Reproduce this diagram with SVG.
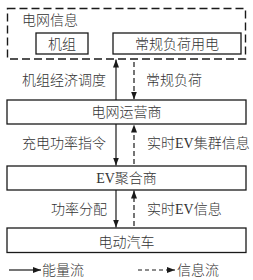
<svg xmlns="http://www.w3.org/2000/svg" width="253" height="280" viewBox="0 0 253 280">
<defs>
<marker id="ah" viewBox="0 0 8 6" refX="8" refY="3" markerWidth="8" markerHeight="6" markerUnits="userSpaceOnUse" orient="auto">
<path d="M0,0 L8,3 L0,6 Z" fill="#1a1a1a"/>
</marker>
<style>
text{font-family:"Liberation Serif","Noto Sans CJK SC",serif;font-size:14px;font-weight:300;fill:#333}
.c{text-anchor:middle}
.box{fill:#fff;stroke:#1a1a1a;stroke-width:1.3}
.dbox{fill:none;stroke:#1a1a1a;stroke-width:1.4;stroke-dasharray:8 4}
.sol{stroke:#1a1a1a;stroke-width:1.2;fill:none;marker-end:url(#ah)}
.dsh{stroke:#1a1a1a;stroke-width:1.2;fill:none;stroke-dasharray:5 3;marker-end:url(#ah)}
</style>
</defs>
<rect width="253" height="280" fill="#fff"/>
<g id="grid-info">
<rect class="dbox" x="7.5" y="8.5" width="238" height="50.5"/>
<text x="22" y="25">电网信息</text>
</g>
<g id="unit">
<rect class="box" x="36" y="33" width="52" height="21"/>
<text class="c" x="62" y="48.5">机组</text>
</g>
<g id="load">
<rect class="box" x="113" y="33" width="128" height="21"/>
<text class="c" x="177" y="48.5">常规负荷用电</text>
</g>
<g id="operator">
<rect class="box" x="7" y="100" width="239" height="24"/>
<text class="c" x="126.5" y="117">电网运营商</text>
</g>
<g id="aggregator">
<rect class="box" x="7" y="166" width="239" height="24"/>
<text class="c" x="126.5" y="183">EV聚合商</text>
</g>
<g id="ev">
<rect class="box" x="7" y="228" width="239" height="24.5"/>
<text class="c" x="126.5" y="247">电动汽车</text>
</g>
<g id="connectors">
<line class="sol" x1="116" y1="100" x2="116" y2="59.5"/>
<line class="dsh" x1="134" y1="62" x2="134" y2="99.5"/>
<line class="sol" x1="116" y1="124" x2="116" y2="165.5"/>
<line class="dsh" x1="134" y1="164" x2="134" y2="124.5"/>
<line class="sol" x1="116" y1="190" x2="116" y2="227.5"/>
<line class="dsh" x1="134" y1="226" x2="134" y2="190.5"/>
<text x="22" y="85">机组经济调度</text>
<text x="146" y="85">常规负荷</text>
<text x="22" y="148">充电功率指令</text>
<text x="147" y="148">实时EV集群信息</text>
<text x="51" y="213.5">功率分配</text>
<text x="147" y="213.5">实时EV信息</text>
</g>
<g id="legend">
<line class="sol" x1="9" y1="270" x2="41" y2="270"/>
<text x="42" y="275">能量流</text>
<line class="dsh" x1="138" y1="270" x2="175" y2="270" style="stroke-dasharray:4 3"/>
<text x="177" y="275">信息流</text>
</g>
</svg>
